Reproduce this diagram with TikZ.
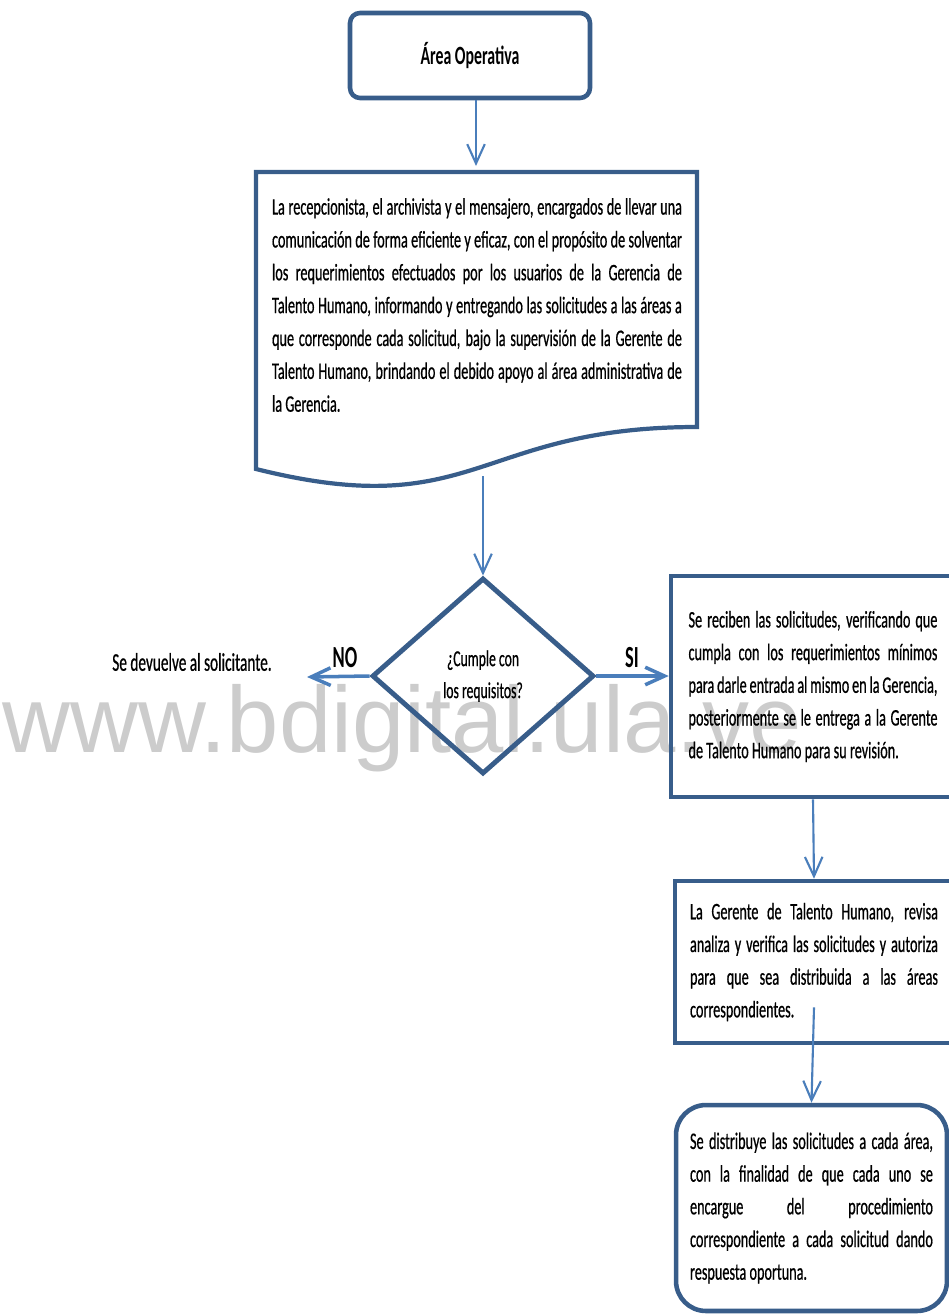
\documentclass[tikz,border=0pt]{standalone}
\usepackage{fontspec}
\setmainfont{Carlito}[FakeStretch=0.6, UprightFeatures={FakeBold=0.6}]
\newfontfamily\marcafont{Liberation Sans}
\usepackage{xcolor}
\usetikzlibrary{arrows.meta,shapes.geometric}
\definecolor{borde}{RGB}{56,93,138}
\definecolor{flecha}{RGB}{74,126,187}
\definecolor{marca}{RGB}{204,204,204}

\begin{document}
\begin{tikzpicture}[x=0.02cm,y=-0.02cm]
        \tikzstyle{caja}=[draw=borde, line width=2.6pt, inner sep=0pt, align=justify, font=\fontsize{13.5}{18.6}\selectfont]
        \tikzstyle{rombo}=[draw=borde, line width=2.8pt, diamond, inner sep=0pt, align=center, minimum width=4.44cm, minimum height=3.92cm, font=\fontsize{13}{18.2}\selectfont]
        \tikzstyle{flechita}=[draw=flecha, line width=1.2pt, -{Straight Barb[length=11pt,width=10pt]}]
        \tikzstyle{rotulo}=[inner sep=0pt, font=\bfseries\fontsize{17.5}{20}\selectfont]

        \useasboundingbox (0,0) rectangle (948,1315);

        \coordinate (A) at (470,55.5);
        \coordinate (B) at (477,305);
        \coordinate (C) at (483,676);
        \coordinate (D) at (813,686.5);
        \coordinate (E) at (814,962);
        \coordinate (F) at (811.5,1208);

        \node (marca) at (2,752)[anchor=base west, inner sep=0pt, text=marca, font=\marcafont\fontsize{53.5}{60}\selectfont]{www.bdigital.ula.ve};

        \node (area) at (A)[caja, rounded corners=0.2cm, minimum width=4.8cm, minimum height=1.7cm, font=\bfseries\fontsize{15}{17}\selectfont]{Área Operativa};

        \draw[borde, line width=2.4pt] (256,172) -- (697,172) -- (697,427) .. controls (476,427) and (476,524) .. (256,469) -- cycle;
        \node (texto) at (B)[inner sep=0pt, text width=8.2cm, align=justify, font=\fontsize{13.5}{18.7}\selectfont]{La recepcionista, el archivista y el mensajero, encargados de llevar una\linebreak
comunicación de forma eficiente y eficaz, con el propósito de solventar\linebreak
los requerimientos efectuados por los usuarios de la Gerencia de\linebreak
Talento Humano, informando y entregando las solicitudes a las áreas a\linebreak
que corresponde cada solicitud, bajo la supervisión de la Gerente de\linebreak
Talento Humano, brindando el debido apoyo al área administrativa de\linebreak
la Gerencia.};

        \node (cumple) at (C)[rombo]{¿Cumple con\\los requisitos?};
        \node (no) at (345,658)[rotulo]{NO};
        \node (si) at (632,658)[rotulo]{SI};
        \node (devuelve) at (192,662)[inner sep=0pt, font=\fontsize{14.5}{17}\selectfont]{Se devuelve al solicitante.};

        \node (recibe) at (D)[caja, minimum width=5.68cm, minimum height=4.42cm, text width=4.98cm]{Se reciben las solicitudes, verificando que\linebreak
cumpla con los requerimientos mínimos\linebreak
para darle entrada al mismo en la Gerencia,\linebreak
posteriormente se le entrega a la Gerente\linebreak
de Talento Humano para su revisión.};

        \node (gerente) at (E)[caja, minimum width=5.56cm, minimum height=3.24cm, text width=4.96cm]{La Gerente de Talento Humano, revisa\linebreak
analiza y verifica las solicitudes y autoriza\linebreak
para que sea distribuida a las áreas\linebreak
correspondientes.};

        \node (distribuye) at (F)[caja, rounded corners=0.6cm, minimum width=5.42cm, minimum height=4.12cm, text width=4.86cm]{Se distribuye las solicitudes a cada área,\linebreak
con la finalidad de que cada uno se\linebreak
encargue del procedimiento\linebreak
correspondiente a cada solicitud dando\linebreak
respuesta oportuna.};

        \coordinate (docn) at (476,166);
        \coordinate (docs) at (483,476);
        \coordinate (finno) at (307,677);

        \draw[flechita] (area.south -| docn) -- (docn);
        \draw[flechita] (docs) -- (cumple.north);
        \draw[flechita, line width=2pt] (cumple.west) -- (finno);
        \draw[flechita, line width=2pt] (cumple.east) -- (cumple.east -| recibe.west);
        \draw[flechita] (recibe.south) -- (gerente.north);
        \draw[flechita] ([yshift=0.76cm]gerente.south) -- (distribuye.north);
\end{tikzpicture}
\end{document}
